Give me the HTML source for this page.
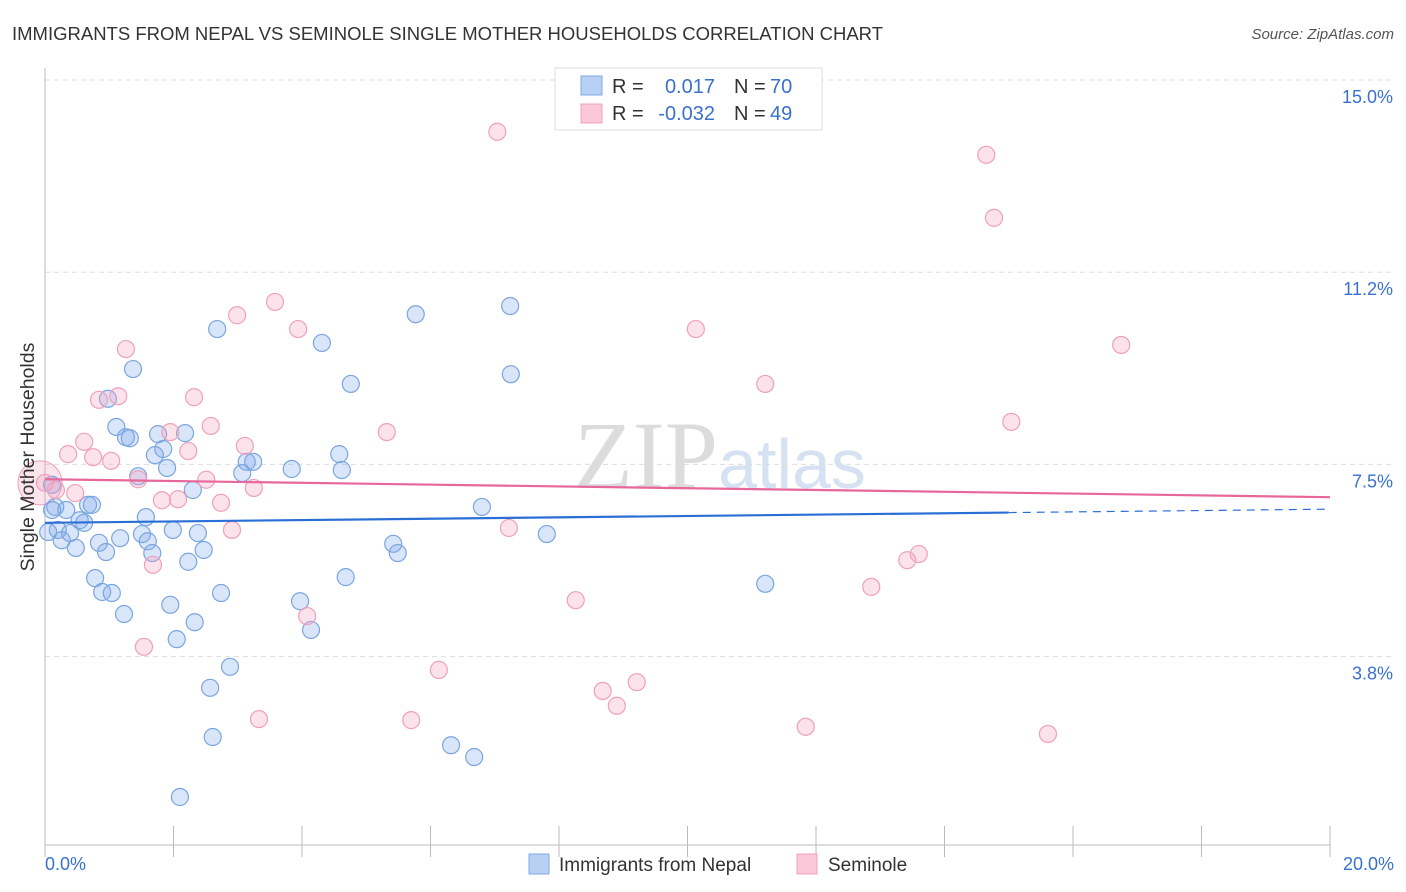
<!DOCTYPE html>
<html><head><meta charset="utf-8">
<style>
body{margin:0;background:#fff;font-family:"Liberation Sans",sans-serif;}
svg{display:block}
</style></head>
<body>
<svg id="chart" width="1406" height="892" xmlns="http://www.w3.org/2000/svg">
<text x="12" y="40" font-size="18.5" fill="#333">IMMIGRANTS FROM NEPAL VS SEMINOLE SINGLE MOTHER HOUSEHOLDS CORRELATION CHART</text>
<text x="1394" y="39" font-size="15" fill="#555" font-style="italic" text-anchor="end">Source: ZipAtlas.com</text>
<text x="720" y="488" font-size="96" fill="#e4e4e4" text-anchor="middle" font-family="Liberation Serif"><tspan fill="#dcdcdc">ZIP</tspan><tspan fill="#d6e2f2" font-family="Liberation Sans" font-size="70">atlas</tspan></text>
<g id="grid"></g>
<g id="axes"></g>
<g id="points"></g>
<g id="trends"></g>
<text transform="translate(34,457) rotate(-90)" font-size="19.5" fill="#333" text-anchor="middle">Single Mother Households</text>
<g>
<rect x="555" y="68" width="267" height="62" fill="#fff" stroke="#ddd"/>
<rect x="581" y="76" width="21" height="19" fill="#b8d0f4" stroke="#80aae6"/>
<rect x="581" y="104" width="21" height="19" fill="#fac8d8" stroke="#f0a0bc"/>
<text x="612" y="93" font-size="20" fill="#333">R = </text><text x="715" y="93" font-size="20" fill="#3a70d0" text-anchor="end">0.017</text>
<text x="734" y="93" font-size="20" fill="#333">N = </text><text x="770" y="93" font-size="20" fill="#3a70d0">70</text>
<text x="612" y="120" font-size="20" fill="#333">R = </text><text x="715" y="120" font-size="20" fill="#3a70d0" text-anchor="end">-0.032</text>
<text x="734" y="120" font-size="20" fill="#333">N = </text><text x="770" y="120" font-size="20" fill="#3a70d0">49</text>
</g>
<g>
<rect x="529" y="854" width="20" height="20" fill="#b8d0f4" stroke="#80aae6"/>
<text x="559" y="871" font-size="19" fill="#333">Immigrants from Nepal</text>
<rect x="797" y="854" width="20" height="20" fill="#fac8d8" stroke="#f0a0bc"/>
<text x="828" y="871" font-size="19" fill="#333">Seminole</text>
</g>
</svg>
<script>
const yTicks=[15.0,11.25,7.5,3.75];
const yTickLabels=["15.0%","11.2%","7.5%","3.8%"];
const xTickLabels=["0.0%","20.0%"];
const nepalX=[0.11,0.16,0.20,0.26,0.33,0.39,0.48,0.54,0.61,0.67,0.73,0.78,0.84,0.89,0.95,1.04,1.11,1.17,1.23,1.26,1.32,1.37,1.45,1.51,1.57,1.60,1.67,1.71,1.76,1.84,1.90,1.95,1.99,2.05,2.10,2.18,2.23,2.30,2.33,2.38,2.47,2.57,2.61,2.68,2.74,2.88,3.07,3.14,3.24,3.84,3.97,4.14,4.31,4.58,4.62,4.68,4.76,5.42,5.49,5.77,6.32,6.68,6.80,7.24,7.25,7.81,11.21,0.98,0.05,0.11];
const nepalY=[7.10,6.67,6.22,6.02,6.61,6.16,5.87,6.41,6.36,6.71,6.71,5.28,5.97,5.01,5.79,4.99,8.23,6.06,4.58,8.03,8.01,9.36,7.27,6.14,6.47,6.0,5.77,7.68,8.09,7.8,7.43,4.76,6.22,4.09,1.01,8.11,5.60,7.0,4.42,6.16,5.83,3.14,2.18,10.14,4.99,3.55,7.33,7.55,7.55,7.41,4.83,4.27,9.87,7.70,7.39,5.30,9.07,5.95,5.77,10.43,2.02,1.79,6.67,10.59,9.26,6.14,5.17,8.78,6.18,6.61];
const semX=[0.0,0.17,0.36,0.47,0.61,0.75,0.84,1.03,1.14,1.26,1.45,1.54,1.68,1.82,1.95,2.07,2.23,2.32,2.51,2.58,2.74,2.91,2.99,3.25,3.11,3.33,3.58,3.94,4.08,5.32,5.70,6.13,7.04,7.22,8.26,8.68,8.90,9.21,10.13,11.21,11.84,12.86,13.42,13.60,14.65,14.77,15.04,15.61,16.75];
const semY=[7.14,7.0,7.70,6.94,7.94,7.64,8.76,7.57,8.83,9.75,7.21,3.94,5.54,6.8,8.13,6.82,7.76,8.81,7.2,8.25,6.75,6.22,10.41,7.04,7.86,2.53,10.67,10.14,4.54,8.13,2.51,3.49,13.99,6.26,4.85,3.08,2.79,3.25,10.14,9.07,2.38,5.11,5.63,5.75,13.54,12.31,8.33,2.24,9.83];
const nepalTrend=[6.36,0.0133]; // intercept, slope
const semTrend=[7.21,-0.0175];
const NS="http://www.w3.org/2000/svg";
const X0=45,X1=1330,Y0=80;
function xs(v){return X0+(X1-X0)*v/20;}
function ys(v){return Y0+(15-v)*51.25;}
function mk(t,a,p){const e=document.createElementNS(NS,t);for(const k in a)e.setAttribute(k,a[k]);p.appendChild(e);return e;}
const grid=document.getElementById('grid'),axes=document.getElementById('axes');
yTicks.forEach((v,i)=>{
  const l=mk('line',{x1:X0,x2:1394,y1:ys(v),y2:ys(v),stroke:'#ddd','stroke-dasharray':'5,4'},grid);
  
  
  const t=mk('text',{x:1393,y:ys(v)+23,'font-size':18,fill:'#3a70d0','text-anchor':'end'},axes);
  t.textContent=yTickLabels[i];
  
  
});
const xa=mk('line',{x1:X0,x2:X1,y1:845,y2:845,stroke:'#bbb'},axes);


const ya=mk('line',{x1:X0,x2:X0,y1:68,y2:845,stroke:'#bbb'},axes);


for(let k=0;k<=10;k++){
  const tk=mk('line',{x1:xs(k*2),x2:xs(k*2),y1:826,y2:857,stroke:'#bbb'},axes);
  
  
}
[[0,'start',45],[20,'end',1394]].forEach((d,i)=>{
  const t=mk('text',{x:d[2],y:870,'font-size':18,fill:'#3a70d0','text-anchor':d[1]},axes);
  t.textContent=xTickLabels[i];
  
  
});
const pts=document.getElementById('points');
const big=mk('circle',{cx:xs(semX[0])-5,cy:ys(semY[0]),r:22,fill:'rgba(240,150,180,0.25)',stroke:'#f0a0bc'},pts);


nepalX.forEach((x,i)=>{
  const c=mk('circle',{cx:xs(x),cy:ys(nepalY[i]),r:8.5,fill:'rgba(130,170,235,0.3)',stroke:'#7aa6e0','stroke-width':1.2},pts);
  
  
});
semX.forEach((x,i)=>{
  const c=mk('circle',{cx:xs(x),cy:ys(semY[i]),r:8.5,fill:'rgba(245,160,190,0.3)',stroke:'#f0a0bc','stroke-width':1.2},pts);
  
  
});
const tr=document.getElementById('trends');
const f=(t,x)=>t[0]+t[1]*x;
const b1=mk('line',{x1:xs(0),y1:ys(f(nepalTrend,0)),x2:xs(15),y2:ys(f(nepalTrend,15)),stroke:'#2a6fd6','stroke-width':2.2},tr);


const b2=mk('line',{x1:xs(15),y1:ys(f(nepalTrend,15)),x2:xs(20),y2:ys(f(nepalTrend,20)),stroke:'#2a6fd6','stroke-width':1.2,'stroke-dasharray':'8,6'},tr);


const p1=mk('line',{x1:xs(0),y1:ys(f(semTrend,0)),x2:xs(20),y2:ys(f(semTrend,20)),stroke:'#e8679a','stroke-width':2.2},tr);


</script>
</body></html>
